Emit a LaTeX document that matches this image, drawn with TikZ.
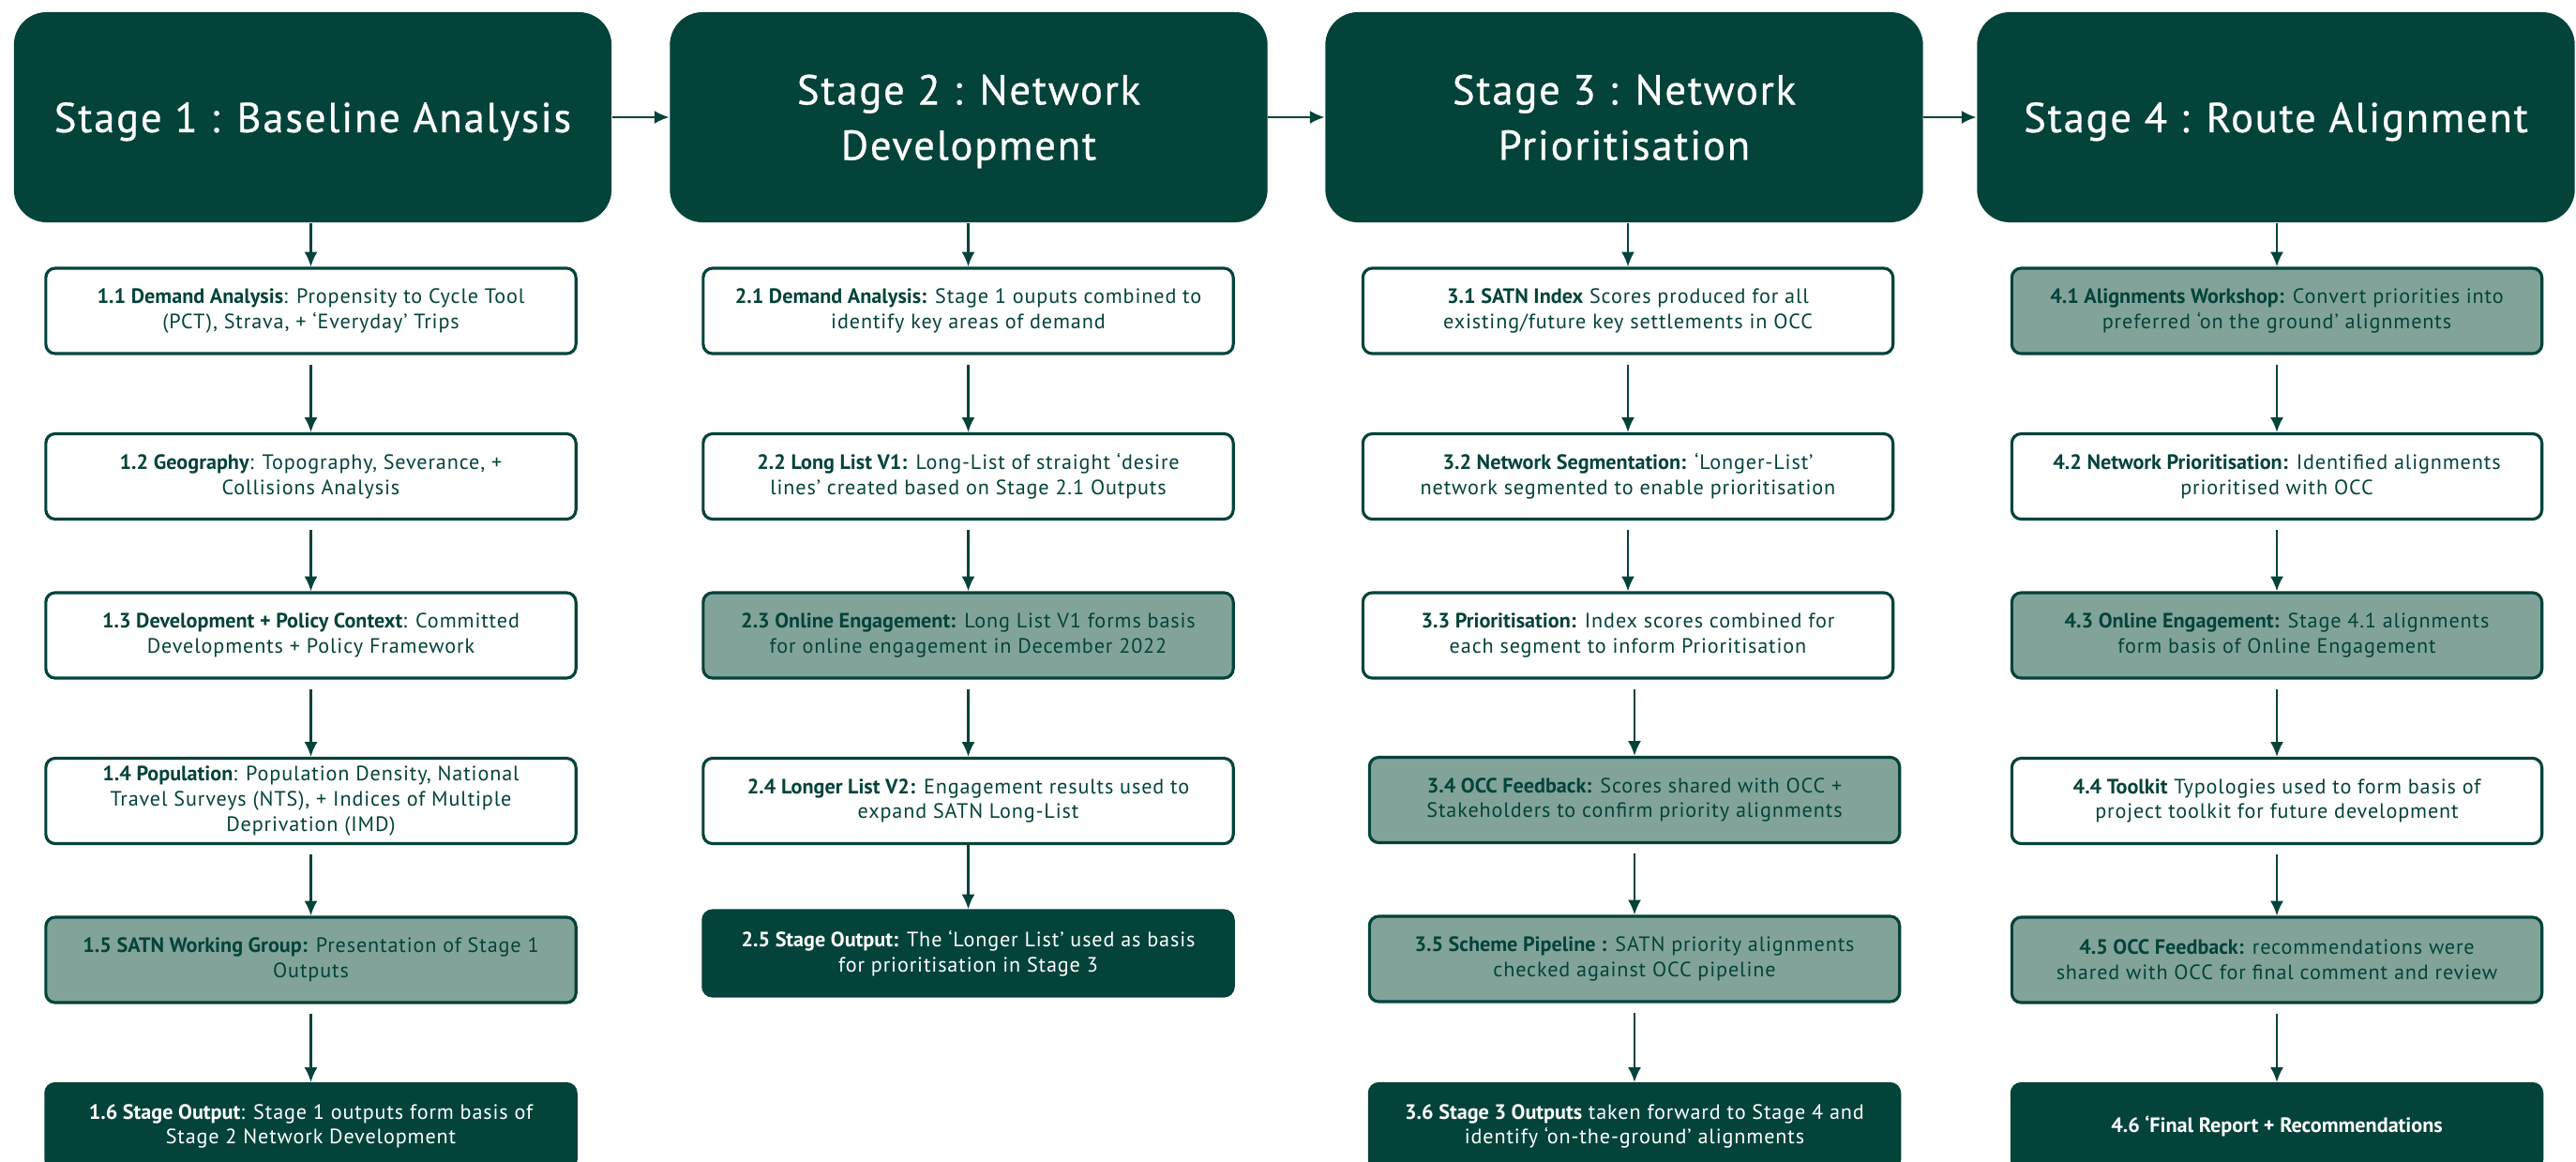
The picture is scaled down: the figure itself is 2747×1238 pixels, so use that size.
\documentclass[tikz,border=0pt]{standalone}
\usepackage{fontspec}
\setmainfont{PT Sans}[UprightFeatures={LetterSpace=4}]
\newfontfamily\headfont[LetterSpace=4, FakeBold=0.6]{PT Sans}
\usetikzlibrary{arrows.meta}
\definecolor{dkgreen}{HTML}{03433A}
\definecolor{sage}{HTML}{82A39A}
\newcommand\hdfont{\headfont\fontsize{12.7}{16.8}\selectfont}
\newcommand\sbfont{\fontsize{6.3}{7.6}\selectfont}
\newcommand\B[1]{\textbf{#1}}
\tikzset{
  head/.style={fill=dkgreen, rounded corners=0.35cm, minimum width=6.37cm,
    minimum height=2.24cm, text=white, font=\hdfont, align=center, inner sep=0pt,
    text depth=0pt},
  subbox/.style={draw=dkgreen, line width=0.9pt, rounded corners=0.1cm,
    minimum width=5.65cm, minimum height=0.91cm, align=center, font=\sbfont,
    text=dkgreen, inner sep=0pt},
  wbox/.style={subbox, fill=white},
  gbox/.style={subbox, fill=sage},
  dbox/.style={subbox, fill=dkgreen, text=white},
  arr/.style={draw=dkgreen, line width=0.65pt, -{Latex[length=4.5pt,width=4pt]}},
  gap/.style={shorten <=0.1cm},
}
\begin{document}
\begin{tikzpicture}[x=0.01cm, y=-0.01cm]
\useasboundingbox (0,0) rectangle (2747,1238);
\fill[white] (0,0) rectangle (2747,1238);
\clip (0,0) rectangle (2747,1238);

% stage headers
\node[head] (s1) at (333.5,125) {Stage 1 : Baseline Analysis};
\node[head] (s2) at (1033,125) {Stage 2 : Network\\Development};
\node[head] (s3) at (1732,125) {Stage 3 : Network\\Prioritisation};
\node[head] (s4) at (2427,125) {Stage 4 : Route Alignment};

% column 1
\node[wbox] (b11) at (331.5,331.5) {\B{1.1 Demand Analysis}: Propensity to Cycle Tool\\(PCT), Strava, + ‘Everyday’ Trips};
\node[wbox] (b12) at (331.5,508) {\B{1.2 Geography}: Topography, Severance, +\\Collisions Analysis};
\node[wbox] (b13) at (331.5,677.5) {\B{1.3 Development + Policy Context}: Committed\\Developments + Policy Framework};
\node[wbox] (b14) at (331.5,854) {\B{1.4 Population}: Population Density, National\\Travel Surveys (NTS), + Indices of Multiple\\Deprivation (IMD)};
\node[gbox] (b15) at (331.5,1023.5) {\B{1.5 SATN Working Group:} Presentation of Stage 1\\Outputs};
\node[dbox] (b16) at (331.5,1201) {\B{1.6 Stage Output}: Stage 1 outputs form basis of\\Stage 2 Network Development};

% column 2
\node[wbox] (b21) at (1032.5,331.5) {\B{2.1 Demand Analysis:} Stage 1 ouputs combined to\\identify key areas of demand};
\node[wbox] (b22) at (1032.5,508) {\B{2.2 Long List V1:} Long-List of straight ‘desire\\lines’ created based on Stage 2.1 Outputs};
\node[gbox] (b23) at (1032.5,677.5) {\B{2.3 Online Engagement:} Long List V1 forms basis\\for online engagement in December 2022};
\node[wbox] (b24) at (1032.5,854) {\B{2.4 Longer List V2:} Engagement results used to\\expand SATN Long-List};
\node[dbox] (b25) at (1032.5,1016.5) {\B{2.5 Stage Output:} The ‘Longer List’ used as basis\\for prioritisation in Stage 3};

% column 3
\node[wbox] (b31) at (1736,331.5) {\B{3.1 SATN Index} Scores produced for all\\existing/future key settlements in OCC};
\node[wbox] (b32) at (1736,508) {\B{3.2 Network Segmentation:} ‘Longer-List’\\network segmented to enable prioritisation};
\node[wbox] (b33) at (1736,677.5) {\B{3.3 Prioritisation:} Index scores combined for\\each segment to inform Prioritisation};
\node[gbox] (b34) at (1743,853) {\B{3.4 OCC Feedback:} Scores shared with OCC +\\Stakeholders to confirm priority alignments};
\node[gbox] (b35) at (1743,1022.5) {\B{3.5 Scheme Pipeline :} SATN priority alignments\\checked against OCC pipeline};
\node[dbox] (b36) at (1743,1201) {\B{3.6 Stage 3 Outputs} taken forward to Stage 4 and\\identify ‘on-the-ground’ alignments};

% column 4
\node[gbox] (b41) at (2428,331.5) {\B{4.1 Alignments Workshop:} Convert priorities into\\preferred ‘on the ground’ alignments};
\node[wbox] (b42) at (2428,508) {\B{4.2 Network Prioritisation:} Identified alignments\\prioritised with OCC};
\node[gbox] (b43) at (2428,677.5) {\B{4.3 Online Engagement:} Stage 4.1 alignments\\form basis of Online Engagement};
\node[wbox] (b44) at (2428,854) {\B{4.4 Toolkit} Typologies used to form basis of\\project toolkit for future development};
\node[gbox] (b45) at (2428,1023.5) {\B{4.5 OCC Feedback:} recommendations were\\shared with OCC for final comment and review};
\node[dbox] (b46) at (2428,1201) {\B{4.6 ‘Final Report + Recommendations}};

% header arrows
\draw[arr] (s1.east) -- (s2.west);
\draw[arr] (s2.east) -- (s3.west);
\draw[arr] (s3.east) -- (s4.west);

% header to first box
\draw[arr] (b11.north |- s1.south) -- (b11.north);
\draw[arr] (b21.north |- s2.south) -- (b21.north);
\draw[arr] (b31.north |- s3.south) -- (b31.north);
\draw[arr] (b41.north |- s4.south) -- (b41.north);

% column 1 arrows
\draw[arr, gap] (b11.south) -- (b12.north);
\draw[arr, gap] (b12.south) -- (b13.north);
\draw[arr, gap] (b13.south) -- (b14.north);
\draw[arr, gap] (b14.south) -- (b15.north);
\draw[arr, gap] (b15.south) -- (b16.north);

% column 2 arrows
\draw[arr, gap] (b21.south) -- (b22.north);
\draw[arr, gap] (b22.south) -- (b23.north);
\draw[arr, gap] (b23.south) -- (b24.north);
\draw[arr] (b24.south) -- (b25.north);

% column 3 arrows
\draw[arr, gap] (b31.south) -- (b32.north);
\draw[arr, gap] (b32.south) -- (b33.north);
\draw[arr, gap] (b34.north |- b33.south) -- (b34.north);
\draw[arr, gap] (b34.south) -- (b35.north);
\draw[arr, gap] (b35.south) -- (b36.north);

% column 4 arrows
\draw[arr, gap] (b41.south) -- (b42.north);
\draw[arr, gap] (b42.south) -- (b43.north);
\draw[arr, gap] (b43.south) -- (b44.north);
\draw[arr, gap] (b44.south) -- (b45.north);
\draw[arr, gap] (b45.south) -- (b46.north);
\end{tikzpicture}
\end{document}
